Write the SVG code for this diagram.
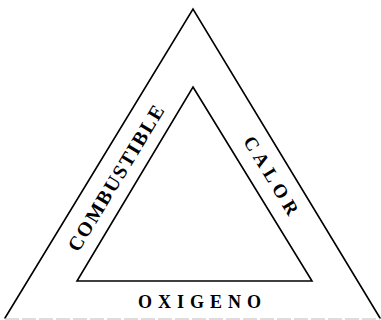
<svg xmlns="http://www.w3.org/2000/svg" width="381" height="320" viewBox="0 0 381 320">
<style>
.edge{stroke:#000;stroke-width:1.6;fill:none;stroke-linecap:round;stroke-linejoin:miter}
.faint{stroke:#bbb;stroke-width:1.2;fill:none;stroke-dasharray:14 3}
.lbl{font-family:"Liberation Serif","Times New Roman",serif;font-weight:bold;fill:#000;text-anchor:middle}
</style>
<rect width="381" height="320" fill="#fff"/>
<g id="outer-triangle">
<polyline class="edge" points="5,318 193,9 380,318"/>
<line class="faint" x1="5" y1="319" x2="380" y2="319"/>
</g>
<g id="inner-triangle">
<polygon class="edge" points="193,87 312,281 77,281"/>
</g>
<g id="combustible">
<text class="lbl" style="font-size:20px;letter-spacing:1.8px" transform="translate(122,181) rotate(-58.7)">COMBUSTIBLE</text>
</g>
<g id="calor">
<text class="lbl" style="font-size:19px;letter-spacing:5px" transform="translate(267,181) rotate(58.7)">CALOR</text>
</g>
<g id="oxigeno">
<text class="lbl" style="font-size:18px;letter-spacing:6px" x="202.5" y="308">OXIGENO</text>
</g>
</svg>
